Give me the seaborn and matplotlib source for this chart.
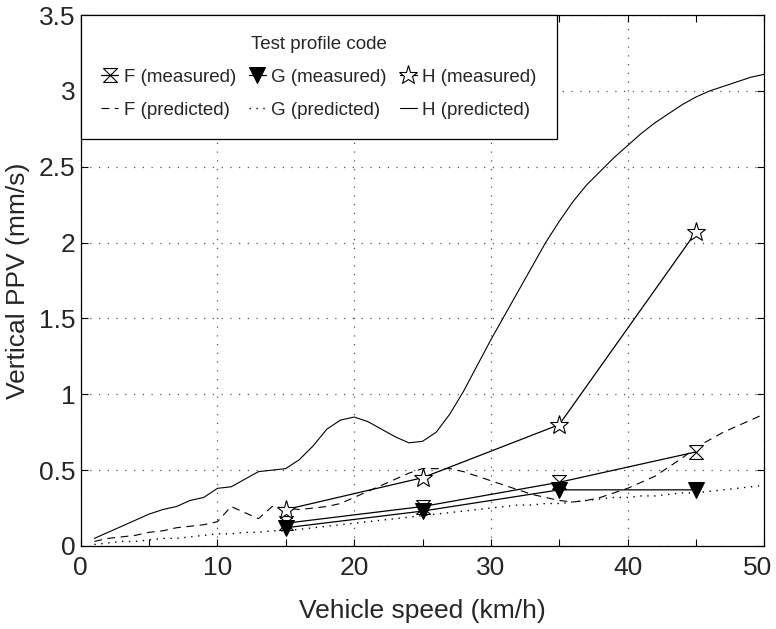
import numpy as np
import pandas as pd
import matplotlib
matplotlib.use("Agg")
import matplotlib.pyplot as plt
import matplotlib.transforms as mtransforms
from matplotlib.path import Path
import seaborn as sns

# ---- data ----
speed_measured = [15, 25, 35, 45]
F_measured = [0.15, 0.26, 0.42, 0.62]
G_measured = [0.12, 0.23, 0.37, 0.37]
H_measured = [0.24, 0.45, 0.80, 2.07]

speed_pred = list(range(1, 51))
F_pred = [0.03, 0.05, 0.06, 0.07, 0.09, 0.10, 0.12, 0.13, 0.14, 0.16,
          0.26, 0.22, 0.18, 0.26, 0.25, 0.24, 0.25, 0.26, 0.28, 0.32,
          0.36, 0.40, 0.44, 0.48, 0.51, 0.51, 0.51, 0.49, 0.46, 0.43,
          0.40, 0.37, 0.34, 0.32, 0.30, 0.29, 0.30, 0.32, 0.35, 0.38,
          0.42, 0.46, 0.52, 0.58, 0.65, 0.70, 0.75, 0.79, 0.83, 0.87]
G_pred = [0.01, 0.02, 0.03, 0.03, 0.04, 0.05, 0.05, 0.06, 0.07, 0.08,
          0.08, 0.09, 0.09, 0.10, 0.10, 0.11, 0.12, 0.13, 0.14, 0.15,
          0.16, 0.17, 0.18, 0.19, 0.20, 0.21, 0.22, 0.23, 0.24, 0.25,
          0.26, 0.27, 0.27, 0.28, 0.28, 0.29, 0.30, 0.31, 0.32, 0.32,
          0.33, 0.33, 0.34, 0.35, 0.35, 0.36, 0.37, 0.38, 0.39, 0.40]
H_pred = [0.05, 0.09, 0.13, 0.17, 0.21, 0.24, 0.26, 0.30, 0.32, 0.38,
          0.39, 0.44, 0.49, 0.50, 0.51, 0.57, 0.66, 0.77, 0.83, 0.85,
          0.82, 0.77, 0.72, 0.68, 0.69, 0.75, 0.87, 1.02, 1.19, 1.36,
          1.52, 1.68, 1.84, 2.00, 2.14, 2.27, 2.38, 2.47, 2.56, 2.64,
          2.72, 2.79, 2.85, 2.91, 2.96, 3.00, 3.03, 3.06, 3.09, 3.11]

x_ticks = [0, 10, 20, 30, 40, 50]
y_ticks = [0, 0.5, 1, 1.5, 2, 2.5, 3, 3.5]
y_ticklabels = ["0", "0.5", "1", "1.5", "2", "2.5", "3", "3.5"]

# ---- style ----
sns.set_style("ticks")
plt.rcParams['font.family'] = ['Liberation Sans', 'DejaVu Sans']

fig = plt.figure(figsize=(7.76, 6.29), dpi=100)
ax = fig.add_axes([0.104, 0.132, 0.881, 0.844])

hourglass = Path([(-1, 1), (1, 1), (-1, -1), (1, -1), (-1, 1)],
                 [Path.MOVETO, Path.LINETO, Path.LINETO, Path.LINETO, Path.LINETO])

dm = pd.DataFrame({"speed": speed_measured, "F": F_measured,
                   "G": G_measured, "H": H_measured})
dp = pd.DataFrame({"speed": speed_pred, "F": F_pred, "G": G_pred, "H": H_pred})

lw = 0.9
sns.lineplot(data=dm, x="speed", y="F", ax=ax, color="black", lw=lw,
             marker=hourglass, markersize=10, markerfacecolor="white",
             markeredgecolor="black", markeredgewidth=0.8,
             label="F (measured)", zorder=4)
sns.lineplot(data=dp, x="speed", y="F", ax=ax, color="black", lw=0.8,
             dashes=(7, 5), label="F (predicted)", zorder=3)
sns.lineplot(data=dm, x="speed", y="G", ax=ax, color="black", lw=lw,
             marker="v", markersize=11, markerfacecolor="black",
             markeredgecolor="black", label="G (measured)", zorder=4)
sns.lineplot(data=dp, x="speed", y="G", ax=ax, color="black", lw=1.0,
             dashes=(1, 4), label="G (predicted)", zorder=3)
sns.lineplot(data=dm, x="speed", y="H", ax=ax, color="black", lw=lw,
             marker="*", markersize=14, markerfacecolor="white",
             markeredgecolor="black", markeredgewidth=0.8,
             label="H (measured)", zorder=4)
sns.lineplot(data=dp, x="speed", y="H", ax=ax, color="black", lw=0.8,
             label="H (predicted)", zorder=3)

ax.set_xlim(0, 50)
ax.set_ylim(0, 3.5)
ax.set_xticks(x_ticks)
ax.set_xticks([5, 15, 25, 35, 45], minor=True)
ax.set_yticks(y_ticks)
ax.set_yticklabels(y_ticklabels)
ax.tick_params(axis="both", which="both", direction="in", labelsize=19,
               top=True, right=True, length=5, width=0.8, color="black")
ax.tick_params(axis="x", which="major", pad=7)
ax.tick_params(axis="y", which="major", pad=4)
ax.grid(True, which="major", linestyle=(0, (1, 6)), color="#555555", lw=0.9)
for s in ax.spines.values():
    s.set_linewidth(0.9)
    s.set_color("black")

# keep the last x tick label inside the figure
last = ax.get_xticklabels()[-1]
last.set_transform(last.get_transform() +
                   mtransforms.ScaledTranslation(-7 / 100, 0, fig.dpi_scale_trans))

ax.set_xlabel("Vehicle speed (km/h)", fontsize=19, labelpad=14)
ax.set_ylabel("Vertical PPV (mm/s)", fontsize=19, labelpad=6)

handles, labels = ax.get_legend_handles_labels()
leg = ax.legend(handles, labels, ncol=3, loc="upper left",
                bbox_to_anchor=(0, 0, 0.697, 1), mode="expand",
                borderaxespad=0,
                title="Test profile code", title_fontsize=13.5,
                fontsize=13.5, frameon=True, fancybox=False,
                edgecolor="black", framealpha=1, handlelength=0.9,
                handletextpad=0.3, columnspacing=1.0, borderpad=1.1,
                labelspacing=0.85)
leg.get_frame().set_linewidth(0.9)

fig.savefig("out.png", dpi=100)
